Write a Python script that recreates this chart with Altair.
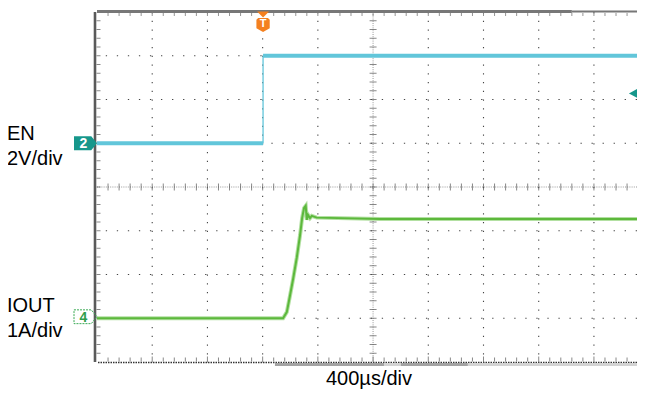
import altair as alt
import pandas as pd

# ---------------- values ----------------
time_per_div = 400          # us / div
n_xdiv = 10
n_ydiv = 8
x_visible_max = 3912        # screen is cut at the right edge

# EN (channel 2): 2 V/div, ground marker at division 5
en_scale = 2.0
en_ref_div = 5
en_segment = ["low", "low", "edge", "edge", "high", "high"]
en_time = [0, 1203, 1203, 1203, 1203, 3912]
en_volt = [0.0, 0.0, 0.0, 4.0, 4.0, 4.0]

# IOUT (channel 4): 1 A/div, ground marker at division 1
iout_scale = 1.0
iout_ref_div = 1
iout_time = [0, 1348, 1375, 1399, 1422, 1447, 1471, 1486, 1500, 1512,
             1520, 1529, 1543, 1556, 1592, 2051, 3912]
iout_amp = [0.0, 0.0, 0.14, 0.53, 0.92, 1.38, 1.90, 2.29, 2.52, 2.57,
            2.25, 2.36, 2.29, 2.34, 2.30, 2.27, 2.27]

trigger_time = 1203
trigger_level_v = 2.28

# record bar under the screen
bar_start = [1289, 2079, 2202, 2687]
bar_end = [2079, 2202, 2687, 3912]
bar_tone = ["dark", "light", "dark", "light"]

ch_labels = ["EN", "2V/div", "IOUT", "1A/div"]
time_label = "400\u00b5s/div"

# ---------------- chart ----------------
W, H = 540, 350
FONT = "Liberation Sans"
xs = alt.Scale(domain=[0, x_visible_max], nice=False, zero=False)
ys = alt.Scale(domain=[0, n_ydiv], nice=False, zero=False)


def X(f="t"):
    return alt.X(f"{f}:Q", scale=xs, axis=None)


def Y(f="y"):
    return alt.Y(f"{f}:Q", scale=ys, axis=None)


center_t = time_per_div * n_xdiv / 2
center_y = n_ydiv / 2
minor_t = time_per_div / 5
minor_y = 1 / 5
n_minor_x = int(x_visible_max // minor_t)

grid_v = pd.DataFrame({"t": [k * time_per_div for k in range(1, n_xdiv) if k != n_xdiv // 2]})
grid_h = pd.DataFrame({"y": [k for k in range(1, n_ydiv) if k != n_ydiv // 2]})

layers = []
layers.append(alt.Chart(grid_v).mark_rule(color="#444", strokeWidth=1.1, strokeDash=[1.3, 7.45]).encode(x=X()))
layers.append(alt.Chart(grid_h).mark_rule(color="#444", strokeWidth=1.1, strokeDash=[1.3, 9.74]).encode(y=Y()))

# center cross with minor ticks
layers.append(alt.Chart(pd.DataFrame({"t": [center_t]})).mark_rule(color="#999", strokeWidth=1, strokeDash=[1, 1.2]).encode(x=X()))
layers.append(alt.Chart(pd.DataFrame({"y": [center_y]})).mark_rule(color="#999", strokeWidth=1, strokeDash=[1, 1.2]).encode(y=Y()))
cv = pd.DataFrame({"t": center_t, "y": [k * minor_y for k in range(1, n_ydiv * 5)]})
ch = pd.DataFrame({"t": [k * minor_t for k in range(1, n_minor_x + 1)], "y": center_y})
layers.append(alt.Chart(cv).mark_tick(orient="horizontal", size=7, thickness=1, color="#555").encode(x=X(), y=Y()))
layers.append(alt.Chart(ch).mark_tick(orient="vertical", size=7, thickness=1, color="#555").encode(x=X(), y=Y()))

# borders
layers.append(alt.Chart(pd.DataFrame({"t": [0]})).mark_rule(color="#5a5a5a", strokeWidth=2.6, xOffset=-2).encode(x=X()))
lt = pd.DataFrame({"t": 0, "y": [k * minor_y for k in range(1, n_ydiv * 5)]})
layers.append(alt.Chart(lt).mark_tick(orient="horizontal", size=4, thickness=1, color="#555", xOffset=1.5).encode(x=X(), y=Y()))
top = pd.DataFrame({"t": [0, 3440], "t2": [3440, x_visible_max], "w": [3.0, 1.8], "y": n_ydiv})
layers.append(alt.Chart(top).mark_rule(color="#777", yOffset=-0.5).encode(x=X(), x2="t2:Q", y=Y(), strokeWidth=alt.StrokeWidth("w:Q", scale=None)))
tt = pd.DataFrame({"t": [k * minor_t for k in range(1, n_minor_x + 1)], "y": n_ydiv})
layers.append(alt.Chart(tt).mark_tick(orient="vertical", size=3, thickness=1, color="#666", yOffset=2.5).encode(x=X(), y=Y()))
layers.append(alt.Chart(pd.DataFrame({"y": [0]})).mark_rule(color="#333", strokeWidth=1.6, strokeDash=[1.5, 1], yOffset=0.5).encode(y=Y()))
bt = pd.DataFrame({"t": [k * minor_t for k in range(1, n_minor_x + 1)], "y": 0})
bt["s"] = [6 if (k % 5 == 0) else 4 for k in range(1, n_minor_x + 1)]
layers.append(alt.Chart(bt).mark_tick(orient="vertical", thickness=1, color="#555", yOffset=-2.5).encode(x=X(), y=Y(), size=alt.Size("s:Q", scale=None)))

# record bar
bar = pd.DataFrame({"t": bar_start, "t2": bar_end, "tone": bar_tone})
layers.append(alt.Chart(bar).mark_rule(strokeWidth=3).encode(
    x=X(), x2="t2:Q", y=alt.value(H + 2.5),
    color=alt.Color("tone:N", scale=alt.Scale(domain=["dark", "light"], range=["#a3a3a3", "#d3d3d3"]), legend=None)))

# traces
en_df = pd.DataFrame({"t": en_time, "y": [en_ref_div + v / en_scale for v in en_volt], "seg": en_segment})
en_df["i"] = range(len(en_df))
en_df["w"] = en_df["seg"].map({"low": 4.0, "edge": 1.3, "high": 4.0})
layers.append(alt.Chart(en_df).mark_line(color="#62c6da").encode(
    x=X(), y=Y(), detail="seg:N", order="i:Q", strokeWidth=alt.StrokeWidth("w:Q", scale=None)))

io_df = pd.DataFrame({"t": iout_time, "y": [iout_ref_div + a / iout_scale for a in iout_amp]})
io_df["i"] = range(len(io_df))
layers.append(alt.Chart(io_df).mark_line(color="#b3e0a2", strokeWidth=4).encode(x=X(), y=Y(), order="i:Q"))
layers.append(alt.Chart(io_df).mark_line(color="#5cb83c", strokeWidth=2).encode(x=X(), y=Y(), order="i:Q"))

# channel markers
arrow = "M-1,-0.6L0.5,-0.6L1,0L0.5,0.6L-1,0.6Z"
m2 = pd.DataFrame({"y": [en_ref_div]})
layers.append(alt.Chart(m2).mark_point(shape=arrow, size=23 ** 2, filled=True, color="#16978b", opacity=1, strokeWidth=0).encode(x=alt.value(-11.5), y=Y()))
layers.append(alt.Chart(m2).mark_text(text="2", color="white", fontSize=14, fontWeight="bold", font=FONT, baseline="middle", dy=1).encode(x=alt.value(-13.5), y=Y()))
m4 = pd.DataFrame({"y": [iout_ref_div]})
layers.append(alt.Chart(m4).mark_point(shape=arrow, size=23 ** 2, filled=False, color="#3aaa55", opacity=1, strokeWidth=1, strokeDash=[2, 1], yOffset=-1.5).encode(x=alt.value(-11.5), y=Y()))
layers.append(alt.Chart(m4).mark_text(text="4", color="#2e9e4a", fontSize=14, fontWeight="bold", font=FONT, baseline="middle", dy=-0.5).encode(x=alt.value(-13.5), y=Y()))

# trigger markers
trg = pd.DataFrame({"t": [trigger_time]})
layers.append(alt.Chart(trg).mark_point(shape="M-1,-0.5L1,-0.5L0,0.5Z", size=144, filled=True, color="#f4801f", opacity=1, strokeWidth=0).encode(x=X(), y=alt.value(2.5)))
badge = "M-0.7,-1L0.7,-1L0.95,-0.75L0.95,0.45L0,1L-0.95,0.45L-0.95,-0.75Z"
layers.append(alt.Chart(trg).mark_point(shape=badge, size=196, filled=True, color="#f4801f", opacity=1, strokeWidth=0).encode(x=X(), y=alt.value(13)))
layers.append(alt.Chart(trg).mark_text(text="T", color="white", fontSize=11, fontWeight="bold", font=FONT, baseline="middle", dy=-1).encode(x=X(), y=alt.value(13)))
lvl = pd.DataFrame({"y": [en_ref_div + trigger_level_v / en_scale]})
layers.append(alt.Chart(lvl).mark_point(shape="M0.9,-1L0.9,1L-0.9,0Z", size=81, filled=True, color="#16978b", opacity=1, strokeWidth=0).encode(x=alt.value(536), y=Y()))

# labels
lab = pd.DataFrame({"text": ch_labels, "px": [-90, -90, -90, -90], "py": [128, 153, 300, 325]})
layers.append(alt.Chart(lab).mark_text(align="left", baseline="alphabetic", fontSize=20, font=FONT, color="black").encode(
    x=alt.X("px:Q", scale=None), y=alt.Y("py:Q", scale=None), text="text:N"))
layers.append(alt.Chart(pd.DataFrame({"text": [time_label]})).mark_text(align="left", baseline="alphabetic", fontSize=20, font=FONT, color="black").encode(
    x=alt.value(229), y=alt.value(373), text="text:N"))

chart = alt.layer(*layers).properties(
    width=W, height=H,
    padding={"left": 89, "top": 4, "right": 0, "bottom": 27},
    autosize=alt.AutoSizeParams(type="none"),
    background="white",
).configure_view(stroke=None)

chart.save("out.html", embed_options={"renderer": "svg", "actions": False})
